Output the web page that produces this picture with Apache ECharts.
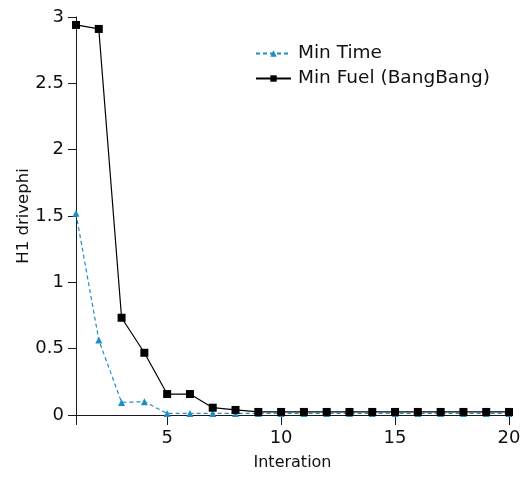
<!DOCTYPE html>
<html>
<head>
<meta charset="utf-8">
<script src="https://cdn.jsdelivr.net/npm/echarts@6/dist/echarts.min.js"></script>
<style>
  html, body { margin: 0; padding: 0; background: #fff; }
  #chart { width: 526px; height: 477px; }
</style>
</head>
<body>
<div id="chart"></div>
<script>
// Iteration numbers and the H1 drivephi value reached at each one
const iterations = [1, 2, 3, 4, 5, 6, 7, 8, 9, 10, 11, 12, 13, 14, 15, 16, 17, 18, 19, 20];
const minTime = [1.52, 0.565, 0.095, 0.10, 0.012, 0.012, 0.012, 0.012, 0.012, 0.012,
                 0.012, 0.012, 0.012, 0.012, 0.012, 0.012, 0.012, 0.012, 0.012, 0.012];
const minFuel = [2.94, 2.91, 0.733, 0.469, 0.158, 0.158, 0.055, 0.038, 0.023, 0.023,
                 0.023, 0.023, 0.023, 0.023, 0.023, 0.023, 0.023, 0.023, 0.023, 0.023];
const xTickLabels = [5, 10, 15, 20];
const yTicks = { min: 0, max: 3, interval: 0.5 };

const FONT = 'DejaVu Sans';
const AXIS = '#1a1a1a';
const BLUE = '#1e8ec4';

const pairs = (xs, ys) => xs.map((x, i) => [x, ys[i]]);

const chart = echarts.init(document.getElementById('chart'), null, { renderer: 'canvas' });
chart.setOption({
  animation: false,
  backgroundColor: '#ffffff',
  grid: { left: 76, right: 17, top: 17, bottom: 62, containLabel: false, outerBoundsMode: 'none' },
  legend: {
    orient: 'vertical',
    left: 255,
    top: 44,
    padding: 0,
    itemWidth: 35,
    itemHeight: 8,
    itemGap: 6,
    textStyle: { fontFamily: FONT, fontSize: 18.5, color: '#111', padding: [0, 0, 0, 2] },
    data: ['Min Time', 'Min Fuel (BangBang)']
  },
  xAxis: {
    type: 'value',
    min: iterations[0],
    max: iterations[iterations.length - 1],
    name: 'Interation',
    nameLocation: 'middle',
    nameGap: 40,
    nameTextStyle: { fontFamily: FONT, fontSize: 16, color: '#111' },
    axisLine: { show: true, onZero: false, lineStyle: { color: AXIS, width: 1 } },
    axisTick: { show: true, length: 10, lineStyle: { color: AXIS }, customValues: [iterations[0]].concat(xTickLabels) },
    axisLabel: { fontFamily: FONT, fontSize: 18, color: '#111', margin: 14, customValues: xTickLabels },
    splitLine: { show: false }
  },
  yAxis: {
    type: 'value',
    min: yTicks.min,
    max: yTicks.max,
    interval: yTicks.interval,
    name: 'H1 drivephi',
    nameLocation: 'middle',
    nameGap: 44,
    nameMoveOverlap: false,
    nameRotate: 90,
    nameTextStyle: { fontFamily: FONT, fontSize: 16.5, color: '#111' },
    axisLine: { show: true, lineStyle: { color: AXIS, width: 1 } },
    axisTick: { show: true, length: 8, lineStyle: { color: AXIS } },
    axisLabel: { fontFamily: FONT, fontSize: 18, color: '#111', margin: 12 },
    splitLine: { show: false }
  },
  series: [
    {
      name: 'Min Time',
      type: 'line',
      data: pairs(iterations, minTime),
      symbol: 'triangle',
      symbolSize: 7,
      itemStyle: { color: BLUE },
      lineStyle: { color: BLUE, width: 1.2, type: [4, 3] },
      z: 2
    },
    {
      name: 'Min Fuel (BangBang)',
      type: 'line',
      data: pairs(iterations, minFuel),
      symbol: 'rect',
      symbolSize: 8,
      itemStyle: { color: '#000' },
      lineStyle: { color: '#000', width: 1.2 },
      z: 3
    }
  ]
});
</script>
</body>
</html>
